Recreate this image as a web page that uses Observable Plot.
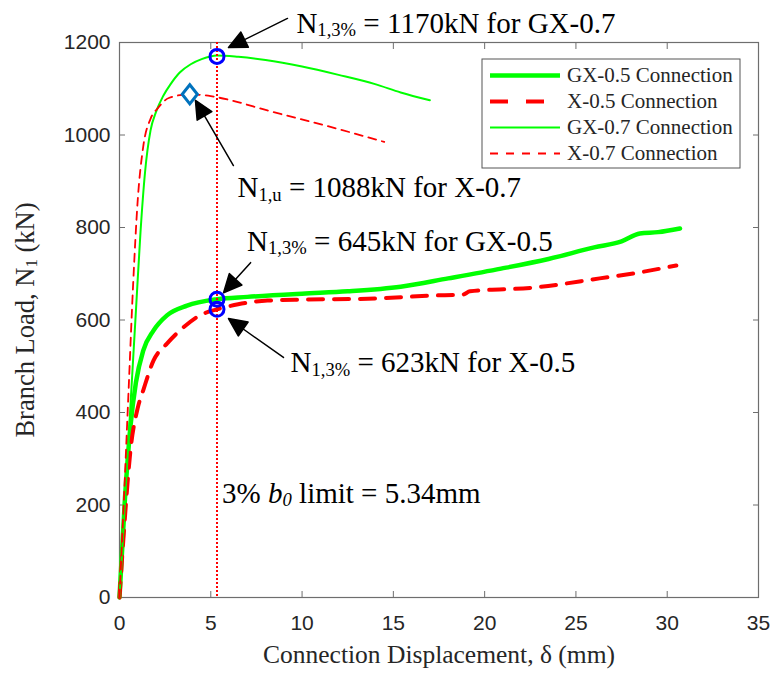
<!DOCTYPE html>
<html><head><meta charset="utf-8">
<script src="https://cdn.jsdelivr.net/npm/d3@7"></script>
<script src="https://cdn.jsdelivr.net/npm/@observablehq/plot@0.6"></script>
<style>body{margin:0;background:#fff}#chart{width:777px;height:673px}</style>
</head><body><div id="chart"></div>
<script>
// ---- data ----
const seriesNames = ["GX-0.5 Connection", "X-0.5 Connection", "GX-0.7 Connection", "X-0.7 Connection"];

const gx05X = [0, 0.3, 0.6, 0.9, 1.3, 1.86, 2.6, 3.7, 5.34, 7, 10, 12.5, 15.4, 18, 20.9, 23.5, 26, 27.5, 28.5, 29.5, 30.7];
const gx05Y = [0, 215, 370, 465, 534, 577, 610, 631, 645, 650, 657, 662, 672, 690, 711, 732, 757, 770, 787, 790, 798];

const x05X = [0, 0.3, 0.6, 1.0, 1.3, 1.86, 2.6, 3.5, 4.4, 5.34, 6.5, 8.1, 10, 13.6, 17.2, 18.8, 19.2, 22.7, 26.3, 28.5, 30.5];
const x05Y = [0, 175, 318, 410, 448, 512, 549, 584, 610, 623, 634, 642, 644, 646, 653, 655, 662, 670, 690, 703, 718];

const gx07X = [0, 0.3, 0.6, 0.9, 1.15, 1.4, 1.7, 2.0, 2.4, 2.8, 3.3, 3.9, 4.5, 5.34, 6.5, 8, 10, 12, 14, 15.4, 17];
const gx07Y = [0, 205, 415, 620, 790, 920, 1010, 1050, 1085, 1110, 1135, 1153, 1164, 1172, 1169, 1162, 1148, 1130, 1110, 1092, 1075];

const x07X = [0, 0.25, 0.5, 0.75, 1.0, 1.3, 1.7, 2.1, 2.7, 3.85, 5.0, 6.0, 8.1, 11.7, 14.5];
const x07Y = [0, 220, 450, 680, 860, 975, 1035, 1058, 1080, 1088, 1084, 1076, 1053, 1016, 985];

const xTicks = [0, 5, 10, 15, 20, 25, 30, 35];
const yTicks = [0, 200, 400, 600, 800, 1000, 1200];

const limitX = [5.34];
const capacityX = [5.34, 5.34, 5.34];
const capacityY = [1170, 645, 623];
const ultimateX = [3.85];
const ultimateY = [1088];

const noteTexts = [
  "N_{1,3%} = 1170kN for GX-0.7",
  "N_{1,u} = 1088kN for X-0.7",
  "N_{1,3%} = 645kN for GX-0.5",
  "N_{1,3%} = 623kN for X-0.5",
  "3% *b*_{*0*} limit = 5.34mm"
];
const noteX = [9.69, 6.46, 6.99, 9.37, 5.62];
const noteY = [1241, 885, 770, 507, 225];

const arrowTailX = [9.20, 6.24, 7.18, 8.98];
const arrowTailY = [1252, 934, 724, 519];
const arrowTipX = [5.97, 4.16, 5.70, 5.97];
const arrowTipY = [1189, 1075, 659, 603];

const xTitle = "Connection Displacement, δ (mm)";
const yTitle = "Branch Load, N_{1} (kN)";

// ---- layout ----
const W = 777, H = 673, mL = 119, mR = 19, mT = 42, mB = 76;
const xDomain = [0, 35], yDomain = [0, 1200];
const kx = (W - mL - mR) / (xDomain[1] - xDomain[0]);
const ky = (H - mT - mB) / (yDomain[1] - yDomain[0]);

const toRows = (xs, ys) => xs.map((x, i) => ({x, y: ys[i]}));
const gx05 = toRows(gx05X, gx05Y), x05 = toRows(x05X, x05Y), gx07 = toRows(gx07X, gx07Y), x07 = toRows(x07X, x07Y);
const capacity = toRows(capacityX, capacityY);
const ultimate = toRows(ultimateX, ultimateY);
const notes = noteTexts.map((t, i) => ({t, x: noteX[i], y: noteY[i]}));
const arrows = arrowTipX.map((x, i) => {
  const dx = (x - arrowTailX[i]) * kx;
  const dy = -(arrowTipY[i] - arrowTailY[i]) * ky;
  return {x, y: arrowTipY[i], len: Math.hypot(dx, dy), ang: Math.atan2(dx, -dy) * 180 / Math.PI};
});

const arrowShape = {
  draw(ctx, l) {
    const hl = 18, hw = 8.5;
    ctx.moveTo(0, 0); ctx.lineTo(0, -l + hl);
    ctx.moveTo(0, -l); ctx.lineTo(-hw, -l + hl); ctx.lineTo(hw, -l + hl); ctx.closePath();
  }
};
const diamondSymbol = {
  draw(ctx, size) {
    const s = Math.sqrt(size / Math.PI);
    ctx.moveTo(0, -s * 1.2); ctx.lineTo(s * 0.95, 0); ctx.lineTo(0, s * 1.2); ctx.lineTo(-s * 0.95, 0); ctx.closePath();
  }
};

const GREEN = "#00ff00", RED = "#ff0000", SERIF = "Liberation Serif, Times New Roman, serif";

const svg = Plot.plot({
  width: W, height: H,
  marginLeft: mL, marginRight: mR, marginTop: mT, marginBottom: mB,
  style: {fontFamily: "Liberation Sans, Arial, sans-serif", fontSize: "21px", color: "#262626", background: "white"},
  x: {domain: xDomain},
  y: {domain: yDomain},
  length: {type: "identity"},
  marks: [
    Plot.frame({stroke: "#6e6e6e", strokeWidth: 1.2}),
    Plot.axisX(xTicks, {anchor: "bottom", tickSize: -6, tickPadding: 24, tickFormat: d3.format("d"), label: null, stroke: "#6e6e6e"}),
    Plot.axisX(xTicks, {anchor: "top", tickSize: -6, tickFormat: () => "", label: null, stroke: "#6e6e6e"}),
    Plot.axisY(yTicks, {anchor: "left", tickSize: -6, tickPadding: 15, tickFormat: d3.format("d"), label: null, stroke: "#6e6e6e"}),
    Plot.axisY(yTicks, {anchor: "right", tickSize: -6, tickFormat: () => "", label: null, stroke: "#6e6e6e"}),
    Plot.line(gx05, {x: "x", y: "y", stroke: GREEN, strokeWidth: 4.5, curve: "monotone-x"}),
    Plot.line(x05, {x: "x", y: "y", stroke: RED, strokeWidth: 4, strokeDasharray: "15,11", curve: "monotone-x"}),
    Plot.line(gx07, {x: "x", y: "y", stroke: GREEN, strokeWidth: 2, curve: "monotone-x"}),
    Plot.line(x07, {x: "x", y: "y", stroke: RED, strokeWidth: 1.8, strokeDasharray: "8,6", curve: "monotone-x"}),
    Plot.ruleX(limitX, {stroke: RED, strokeWidth: 2, strokeDasharray: "2,2"}),
    Plot.dot(capacity, {x: "x", y: "y", r: 7, stroke: "#0000ff", strokeWidth: 3, fill: "none"}),
    Plot.dot(ultimate, {x: "x", y: "y", r: 8, symbol: diamondSymbol, stroke: "#0072bd", strokeWidth: 3, fill: "white"}),
    Plot.vector(arrows, {x: "x", y: "y", length: "len", rotate: "ang", anchor: "end", shape: arrowShape, stroke: "black", fill: "black", strokeWidth: 1.5}),
    Plot.text(notes, {x: "x", y: "y", text: "t", textAnchor: "start", lineAnchor: "middle", fontFamily: SERIF, fontSize: 29, fill: "black"}),
    Plot.text([xTitle], {frameAnchor: "bottom", dy: 57, textAnchor: "middle", lineAnchor: "middle", fontFamily: SERIF, fontSize: 25.5, fill: "#262626"}),
    Plot.text([yTitle], {frameAnchor: "left", dx: -94, rotate: -90, textAnchor: "middle", lineAnchor: "middle", fontFamily: SERIF, fontSize: 26.5, fill: "#262626"})
  ]
});

document.getElementById("chart").appendChild(svg);

// rich text: _{sub} and *italic*
function richify(el) {
  const s = el.textContent;
  if (!/[_*]/.test(s)) return;
  const fs = parseFloat(getComputedStyle(el).fontSize) || 20;
  const shift = fs * 0.12;
  el.textContent = "";
  const re = /_\{([^}]*)\}|\*([^*]*)\*|([^_*]+)/g;
  let m, shifted = false;
  while ((m = re.exec(s))) {
    const t = document.createElementNS("http://www.w3.org/2000/svg", "tspan");
    if (m[1] != null) {
      const italic = /^\*.*\*$/.test(m[1]);
      t.textContent = m[1].replace(/\*/g, "");
      t.setAttribute("font-size", (fs * 0.64).toFixed(1));
      t.setAttribute("dy", shift.toFixed(1));
      if (italic) t.setAttribute("font-style", "italic");
      shifted = true;
    } else {
      t.textContent = m[2] != null ? m[2] : m[3];
      if (m[2] != null) t.setAttribute("font-style", "italic");
      if (shifted) { t.setAttribute("dy", (-shift).toFixed(1)); shifted = false; }
    }
    el.appendChild(t);
  }
}
svg.querySelectorAll("text").forEach(richify);

// legend
const lg = d3.select(svg).append("g").attr("text-anchor", "start");
const lx = 482, ly = 59, lw = 258, lh = 109;
lg.append("rect").attr("x", lx).attr("y", ly).attr("width", lw).attr("height", lh)
  .attr("fill", "white").attr("stroke", "#555").attr("stroke-width", 1);
const legendStyles = [
  {stroke: GREEN, w: 4.5, dash: null},
  {stroke: RED, w: 4, dash: "18,18"},
  {stroke: GREEN, w: 2, dash: null},
  {stroke: RED, w: 1.8, dash: "8,8"}
];
seriesNames.forEach((name, i) => {
  const y = ly + 16.5 + i * 26;
  lg.append("line").attr("x1", lx + 8).attr("x2", lx + 78).attr("y1", y).attr("y2", y)
    .attr("stroke", legendStyles[i].stroke).attr("stroke-width", legendStyles[i].w)
    .attr("stroke-dasharray", legendStyles[i].dash);
  lg.append("text").attr("x", lx + 85).attr("y", y).attr("dy", "0.33em").attr("text-anchor", "start")
    .attr("font-family", SERIF).attr("font-size", 21).attr("fill", "#262626").text(name);
});
</script>
</body></html>
